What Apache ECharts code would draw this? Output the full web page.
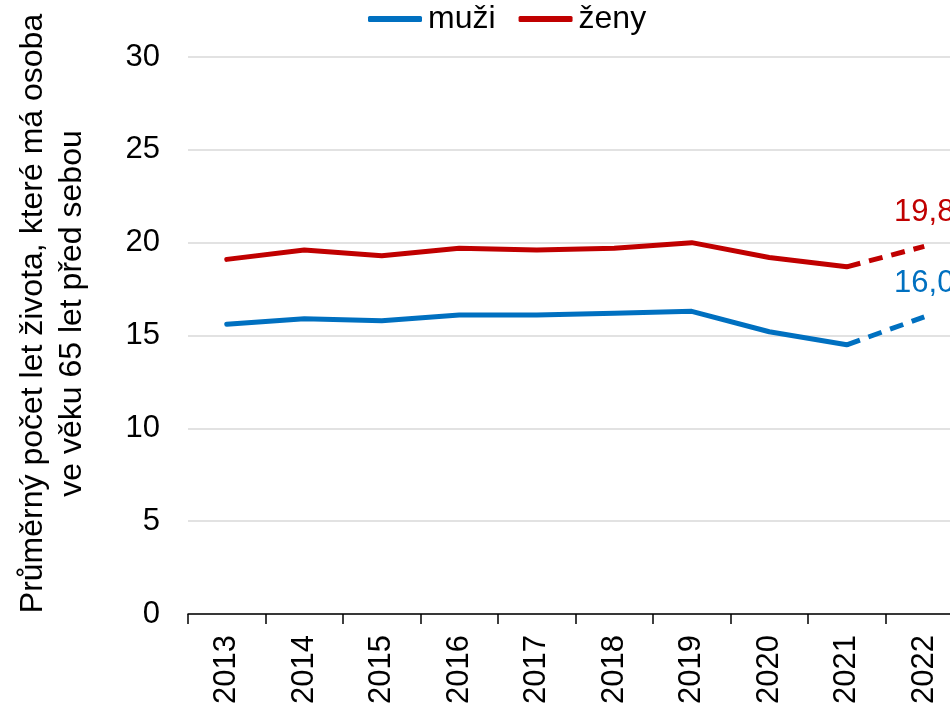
<!DOCTYPE html>
<html>
<head>
<meta charset="utf-8">
<script src="https://cdn.jsdelivr.net/npm/echarts@6/dist/echarts.min.js"></script>
<style>
  html, body { margin: 0; padding: 0; background: #fff; }
  #container { width: 950px; height: 704px; }
</style>
</head>
<body>
<div id="container"></div>
<script>
var roky = ['2013', '2014', '2015', '2016', '2017', '2018', '2019', '2020', '2021', '2022'];
var muzi = [15.6, 15.9, 15.8, 16.1, 16.1, 16.2, 16.3, 15.2, 14.5, null];
var zeny = [19.1, 19.6, 19.3, 19.7, 19.6, 19.7, 20.0, 19.2, 18.7, null];
var muziOdhad = [null, null, null, null, null, null, null, null, 14.5, 16.0];
var zenyOdhad = [null, null, null, null, null, null, null, null, 18.7, 19.8];
var yTicks = [0, 5, 10, 15, 20, 25, 30];

var modra = '#0070C0';
var cervena = '#C00000';
var font = 'Liberation Sans, Arial, sans-serif';

function carka(p) {
    return String(p.value.toFixed(1)).replace('.', ',');
}

var dom = document.getElementById('container');
var myChart = echarts.init(dom);

var option = {
    animation: false,
    textStyle: { fontFamily: font },
    legend: {
        data: ['muži', 'ženy'],
        top: 3,
        left: 368,
        padding: 0,
        itemWidth: 54,
        itemHeight: 6,
        itemGap: 23,
        icon: 'roundRect',
        textStyle: { fontSize: 32, color: '#000', fontFamily: font, padding: [0, 0, 0, 1] }
    },
    grid: {
        left: 188,
        top: 57,
        bottom: 90,
        width: 775,
        outerBoundsMode: 'none',
        containLabel: false
    },
    xAxis: {
        type: 'category',
        data: roky,
        boundaryGap: true,
        axisLine: { lineStyle: { color: '#000', width: 1.5 } },
        axisTick: { show: true, length: 10, lineStyle: { color: '#000', width: 1.5 } },
        axisLabel: { rotate: 90, fontSize: 31, color: '#000', margin: 21, fontFamily: font },
        splitLine: { show: false }
    },
    yAxis: {
        type: 'value',
        min: yTicks[0],
        max: yTicks[yTicks.length - 1],
        interval: 5,
        name: 'Průměrný počet let života, které má osoba\nve věku 65 let před sebou',
        nameLocation: 'middle',
        nameGap: 96,
        nameRotate: 90,
        nameTextStyle: { fontSize: 32, color: '#000', lineHeight: 39, fontFamily: font, padding: [0, 0, 0, 44] },
        axisLine: { show: false },
        axisTick: { show: false },
        axisLabel: { fontSize: 31, color: '#000', margin: 28, fontFamily: font },
        splitLine: { lineStyle: { color: '#d9d9d9', width: 1.5 } }
    },
    series: [
        {
            name: 'muži',
            type: 'line',
            data: muzi,
            color: modra,
            showSymbol: false,
            symbol: 'none',
            lineStyle: { width: 5, color: modra, cap: 'round', join: 'round' }
        },
        {
            name: 'ženy',
            type: 'line',
            data: zeny,
            color: cervena,
            showSymbol: false,
            symbol: 'none',
            lineStyle: { width: 5, color: cervena, cap: 'round', join: 'round' }
        },
        {
            name: 'muži odhad',
            type: 'line',
            data: muziOdhad,
            color: modra,
            symbol: 'circle',
            symbolSize: 0.1,
            showSymbol: true,
            lineStyle: { width: 5, color: modra, type: [14, 9] },
            label: {
                show: true,
                position: 'top',
                distance: 18,
                fontSize: 31,
                color: modra,
                fontFamily: font,
                formatter: function (p) { return p.dataIndex === 9 ? carka(p) : ''; }
            }
        },
        {
            name: 'ženy odhad',
            type: 'line',
            data: zenyOdhad,
            color: cervena,
            symbol: 'circle',
            symbolSize: 0.1,
            showSymbol: true,
            lineStyle: { width: 5, color: cervena, type: [14, 9] },
            label: {
                show: true,
                position: 'top',
                distance: 18,
                fontSize: 31,
                color: cervena,
                fontFamily: font,
                formatter: function (p) { return p.dataIndex === 9 ? carka(p) : ''; }
            }
        }
    ]
};

myChart.setOption(option, true);
</script>
</body>
</html>
